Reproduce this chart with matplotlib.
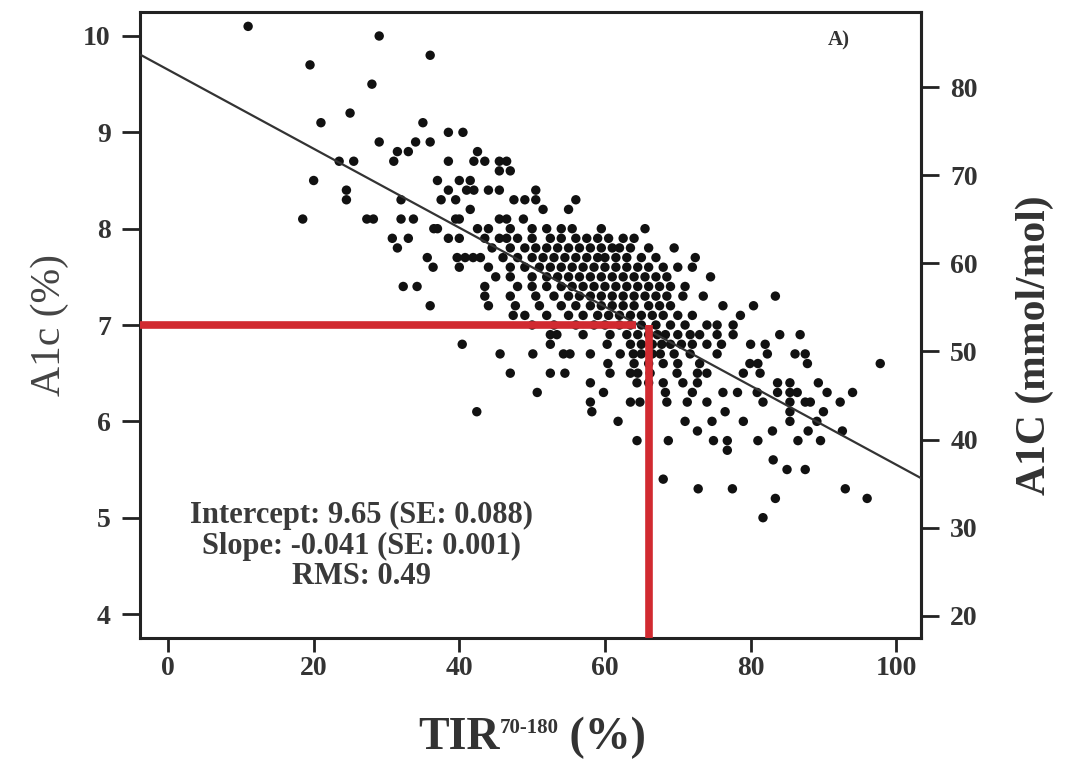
import numpy as np
import matplotlib
matplotlib.use("Agg")
import matplotlib.pyplot as plt

# A1c levels (%) and TIR values (%), one row per level
a1c_levels = [10.1, 10.0, 9.8, 9.7, 9.5, 9.2, 9.1, 9.0, 8.9, 8.8, 8.7, 8.6, 8.5, 8.4, 8.3, 8.2, 8.1,
              8.0, 7.9, 7.8, 7.7, 7.6, 7.5, 7.4, 7.3, 7.2, 7.1, 7.0, 6.9, 6.8, 6.7, 6.6, 6.5,
              6.4, 6.3, 6.2, 6.1, 6.0, 5.9, 5.8, 5.7, 5.6, 5.5, 5.4, 5.3, 5.2, 5.0]
tir_rows = [
    [11],
    [29],
    [36],
    [19.5],
    [28],
    [25],
    [21, 35],
    [38.5, 40.5],
    [29, 34, 36],
    [31.5, 33, 42.5],
    [23.5, 25.5, 31, 38.5, 42, 43.5, 45.5, 46.5],
    [45.5, 47],
    [20, 37, 40, 41.5],
    [24.5, 38.5, 41, 42, 44, 45.5, 50.5],
    [24.5, 32, 37.5, 39.5, 47.5, 49, 50.5, 56],
    [41.5, 51.5, 55],
    [18.5, 27.3, 28.2, 32, 33.7, 39.5, 40, 45.5, 46.5, 48.8],
    [36.5, 37, 42.5, 44, 47, 50, 52, 54, 55.5, 59.5, 65.5],
    [30.8, 33, 38.5, 40, 43.5, 45.5, 46.5, 48, 50, 52.5, 54, 56, 57.5, 59, 60.5, 62.5, 64],
    [31.5, 44.5, 47, 49, 50.5, 52, 53.5, 55, 56.5, 58, 59.5, 61, 62, 63.5, 66, 69.5],
    [35.6, 39.7, 40.8, 41.9, 42.9, 46, 48, 50, 51.5, 53, 54.5, 56, 57.5, 59, 60, 61.5, 63, 65, 67, 72.4],
    [36.4, 40, 44, 47, 49, 51, 52.5, 54, 55.5, 57, 58.5, 60, 61.5, 63, 64.5, 66, 68, 70, 72],
    [45, 47, 50, 52, 53.5, 55, 56.5, 58, 59.5, 61, 62.5, 64, 65.5, 67, 68.5, 74.5],
    [32.3, 34.2, 43.5, 48, 50, 52, 54, 55.5, 57, 58.5, 60, 61.5, 63, 64.5, 66, 67.5, 69, 71],
    [43.5, 47, 50.5, 53, 55, 56.5, 58, 59.5, 61, 62.5, 64, 65.5, 67, 68.5, 70.7, 73.5, 83.4],
    [36, 44, 47.7, 51, 54, 56, 58, 59.5, 61, 62.5, 64, 66, 67.5, 69, 76.2, 80.4],
    [47.4, 49, 52, 55, 57, 59, 60.5, 62, 63.5, 65, 66.5, 68, 70, 72, 78.6],
    [50, 53, 56, 58.5, 60, 62, 63.5, 65, 67, 69, 71, 74, 75.4, 77.6],
    [52.5, 53.4, 57, 60.7, 63, 64.5, 66, 67.2, 68.3, 70, 71.7, 73, 75.4, 77.6, 84, 86.8],
    [40.4, 52.5, 60.3, 63.5, 65, 66.5, 67.8, 69, 70.5, 72, 74, 76, 80, 82],
    [45.6, 50.1, 54.3, 55.2, 58, 62.1, 63.9, 65, 66.5, 67.6, 69.5, 71.7, 75.4, 82.3, 86.1, 87.5],
    [60.4, 64, 66, 68, 70, 73, 79.9, 81, 87.8, 97.8],
    [47, 52.5, 54.5, 60.7, 63.5, 64.5, 66.2, 69.9, 72.7, 74, 79, 81.3],
    [58, 64.4, 66, 68, 70.7, 72.7, 83.7, 85.4, 89.3],
    [50.7, 59.8, 68.3, 72, 76.2, 78.2, 80.9, 83.7, 85.4, 86.4, 90.5, 94],
    [58, 63.5, 64.8, 68.5, 71.3, 74, 81.7, 85.4, 87.5, 88.2, 92.3],
    [42.4, 58.2, 76.5, 85.4, 90],
    [61.8, 71, 74.7, 79, 85.4, 89.1],
    [72.7, 83, 87.9, 92.6],
    [64.4, 68.7, 74.9, 76.8, 81, 86.5, 89.6],
    [76.8],
    [83.1],
    [85, 87.5],
    [68],
    [72.8, 77.5, 93],
    [83.4, 96],
    [81.7],
]

intercept = 9.65
slope = -0.041
target_a1c = 7.0
target_tir_h = 64.3   # end of horizontal red line
target_tir_v = 66.0   # position of vertical red line

x_ticks = [0, 20, 40, 60, 80, 100]
y_ticks = [4, 5, 6, 7, 8, 9, 10]
mmol_ticks = [20, 30, 40, 50, 60, 70, 80]

tir = np.concatenate([np.array(r, dtype=float) for r in tir_rows])
a1c = np.concatenate([np.full(len(r), lv) for r, lv in zip(tir_rows, a1c_levels)])

plt.rcParams['font.family'] = ['Liberation Serif', 'DejaVu Serif']
txt = '#333333'

fig = plt.figure(figsize=(10.66, 7.6), dpi=100)
ax = fig.add_axes([0.1313, 0.1605, 0.7327, 0.8237])

xlim = (-3.85, 103.4)
ylim = (3.751, 10.249)
ax.set_xlim(*xlim)
ax.set_ylim(*ylim)

ax.scatter(tir, a1c, s=46, c='#111111', edgecolors='none', zorder=2)

xs = np.array(xlim)
ax.plot(xs, intercept + slope * xs, color='#333333', lw=1.6, zorder=3)

ax.plot([xlim[0], target_tir_h], [target_a1c, target_a1c], color='#d12a30', lw=5.5,
        solid_capstyle='butt', zorder=4)
ax.plot([target_tir_v, target_tir_v], [target_a1c, ylim[0]], color='#d12a30', lw=5.5,
        solid_capstyle='butt', zorder=4)

for sp in ax.spines.values():
    sp.set_linewidth(2.2)
    sp.set_color('#222222')

ax.set_xticks(x_ticks)
ax.set_yticks(y_ticks)
ax.tick_params(axis='y', length=13, width=2, color='#222222', labelsize=20,
               labelcolor=txt, pad=8)
ax.tick_params(axis='x', length=10, width=2, color='#222222', labelsize=20,
               labelcolor=txt, pad=3)
for lab in ax.get_xticklabels() + ax.get_yticklabels():
    lab.set_fontweight('bold')

ax.set_ylabel('A1c (%)', fontsize=30, color='#444444', labelpad=10)

# right axis: IFCC units
sec = ax.secondary_yaxis('right', functions=(lambda v: 10.929 * v - 23.5,
                                             lambda m: (m + 23.5) / 10.929))
sec.set_yticks(mmol_ticks)
sec.tick_params(length=13, width=2, color='#222222', labelsize=20, labelcolor=txt, pad=8)
for lab in sec.get_yticklabels():
    lab.set_fontweight('bold')
sec.spines['right'].set_linewidth(2.2)
ax.text(1.146, 0.468, 'A1C (mmol/mol)', transform=ax.transAxes, rotation=90,
        fontsize=30, fontweight='bold', color=txt, ha='center', va='center')

# x label built from pieces so the superscript stays in the serif font
base_y = 0.014
lab_kw = dict(fontweight='bold', color=txt, va='baseline')
t1 = fig.text(0, base_y, 'TIR', fontsize=33, **lab_kw)
t2 = fig.text(0, base_y + 0.022, '70-180', fontsize=15, **lab_kw)
t3 = fig.text(0, base_y, ' (%)', fontsize=33, **lab_kw)
r = fig.canvas.get_renderer()
widths = [t.get_window_extent(r).width for t in (t1, t2, t3)]
x0 = 532 - sum(widths) / 2
for t, w in zip((t1, t2, t3), widths):
    t.set_x(x0 / 1066)
    x0 += w

ax.text(0.895, 0.955, 'A)', transform=ax.transAxes, fontsize=15, fontweight='bold',
        color=txt, ha='center', va='center')

stats = 'Intercept: 9.65 (SE: 0.088)\nSlope: -0.041 (SE: 0.001)\nRMS: 0.49'
ax.text(0.284, 0.147, stats, transform=ax.transAxes, fontsize=22, fontweight='bold',
        color='#3a3a3a', ha='center', va='center', linespacing=1.08)

fig.savefig('out.png', dpi=100)
